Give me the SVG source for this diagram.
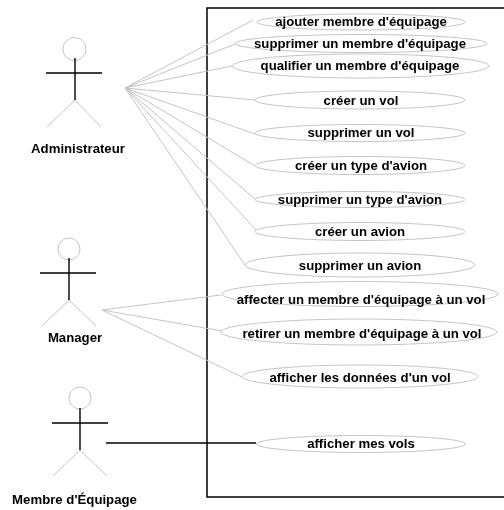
<svg xmlns="http://www.w3.org/2000/svg" width="504" height="510" viewBox="0 0 504 510">
<defs><filter id="soft" x="-5%" y="-5%" width="110%" height="110%"><feGaussianBlur stdDeviation="0.45"/></filter></defs>
<style>
text{font-family:"Liberation Sans",Arial,sans-serif;font-size:13.2px;font-weight:bold;fill:#000;text-anchor:middle}
.uc{fill:#fff;stroke:#c4c4c4;stroke-width:1}
.g{stroke:#c4c4c4;stroke-width:1;fill:none}
.k{stroke:#000;stroke-width:1.4;fill:none}
</style>
<rect width="504" height="510" fill="#fff"/>
<g filter="url(#soft)">
<rect id="system" x="207" y="8" width="320" height="489" fill="none" stroke="#000" stroke-width="1.5"/>
<g id="connectors">
<path class="g" d="M125 88L253 20M125 88L235 44M125 88L232 66M125 88L255 100M125 88L255 134M125 88L255 166M125 88L255 199M125 88L257 231M125 88L245 265M102 310L221 295M102 310L222 331M102 310L242 377"/>
<path class="k" d="M106 443H256"/>
</g>
<g id="actor-admin"><circle class="g" cx="74.500" cy="49" r="11.500"/><path class="k" d="M75 58V100M46 73H102"/><path class="g" d="M75 100L47 127M75 100L101 127"/><text x="78" y="153">Administrateur</text></g>
<g id="actor-manager"><circle class="g" cx="69" cy="249" r="11"/><path class="k" d="M69 258V300M40 273H96"/><path class="g" d="M69 300L42 326M69 300L96 326"/><text x="75" y="342">Manager</text></g>
<g id="actor-membre"><circle class="g" cx="80" cy="398" r="11"/><path class="k" d="M80 408V450M52 423H108"/><path class="g" d="M80 450L53 476M80 450L107 476"/><text x="74.500" y="504">Membre d'Équipage</text></g>
<g id="uc1"><ellipse class="uc" cx="361" cy="22" rx="104" ry="8"/><text x="361" y="26">ajouter membre d'équipage</text></g>
<g id="uc2"><ellipse class="uc" cx="361" cy="43.500" rx="126" ry="9"/><text x="360" y="48">supprimer un membre d'équipage</text></g>
<g id="uc3"><ellipse class="uc" cx="360.500" cy="66" rx="128.500" ry="12"/><text x="360" y="70">qualifier un membre d'équipage</text></g>
<g id="uc4"><ellipse class="uc" cx="360" cy="100" rx="105" ry="9"/><text x="361" y="105">créer un vol</text></g>
<g id="uc5"><ellipse class="uc" cx="360" cy="133" rx="105" ry="8.500"/><text x="361" y="137">supprimer un vol</text></g>
<g id="uc6"><ellipse class="uc" cx="360" cy="165.500" rx="105" ry="9"/><text x="361" y="169.500">créer un type d'avion</text></g>
<g id="uc7"><ellipse class="uc" cx="360" cy="199.500" rx="105" ry="8"/><text x="360" y="203.500">supprimer un type d'avion</text></g>
<g id="uc8"><ellipse class="uc" cx="360" cy="231.500" rx="105" ry="9"/><text x="360" y="236">créer un avion</text></g>
<g id="uc9"><ellipse class="uc" cx="360" cy="265" rx="115" ry="12"/><text x="360" y="269.500">supprimer un avion</text></g>
<g id="uc10"><ellipse class="uc" cx="360" cy="294" rx="138" ry="12.500"/><text x="361" y="304">affecter un membre d'équipage à un vol</text></g>
<g id="uc11"><ellipse class="uc" cx="359" cy="332" rx="138" ry="13"/><text x="362" y="337.500">retirer un membre d'équipage à un vol</text></g>
<g id="uc12"><ellipse class="uc" cx="360" cy="376.500" rx="118" ry="11.500"/><text x="360" y="382">afficher les données d'un vol</text></g>
<g id="uc13"><ellipse class="uc" cx="361" cy="444" rx="104.500" ry="8.500"/><text x="361" y="448">afficher mes vols</text></g>
</g>
</svg>
